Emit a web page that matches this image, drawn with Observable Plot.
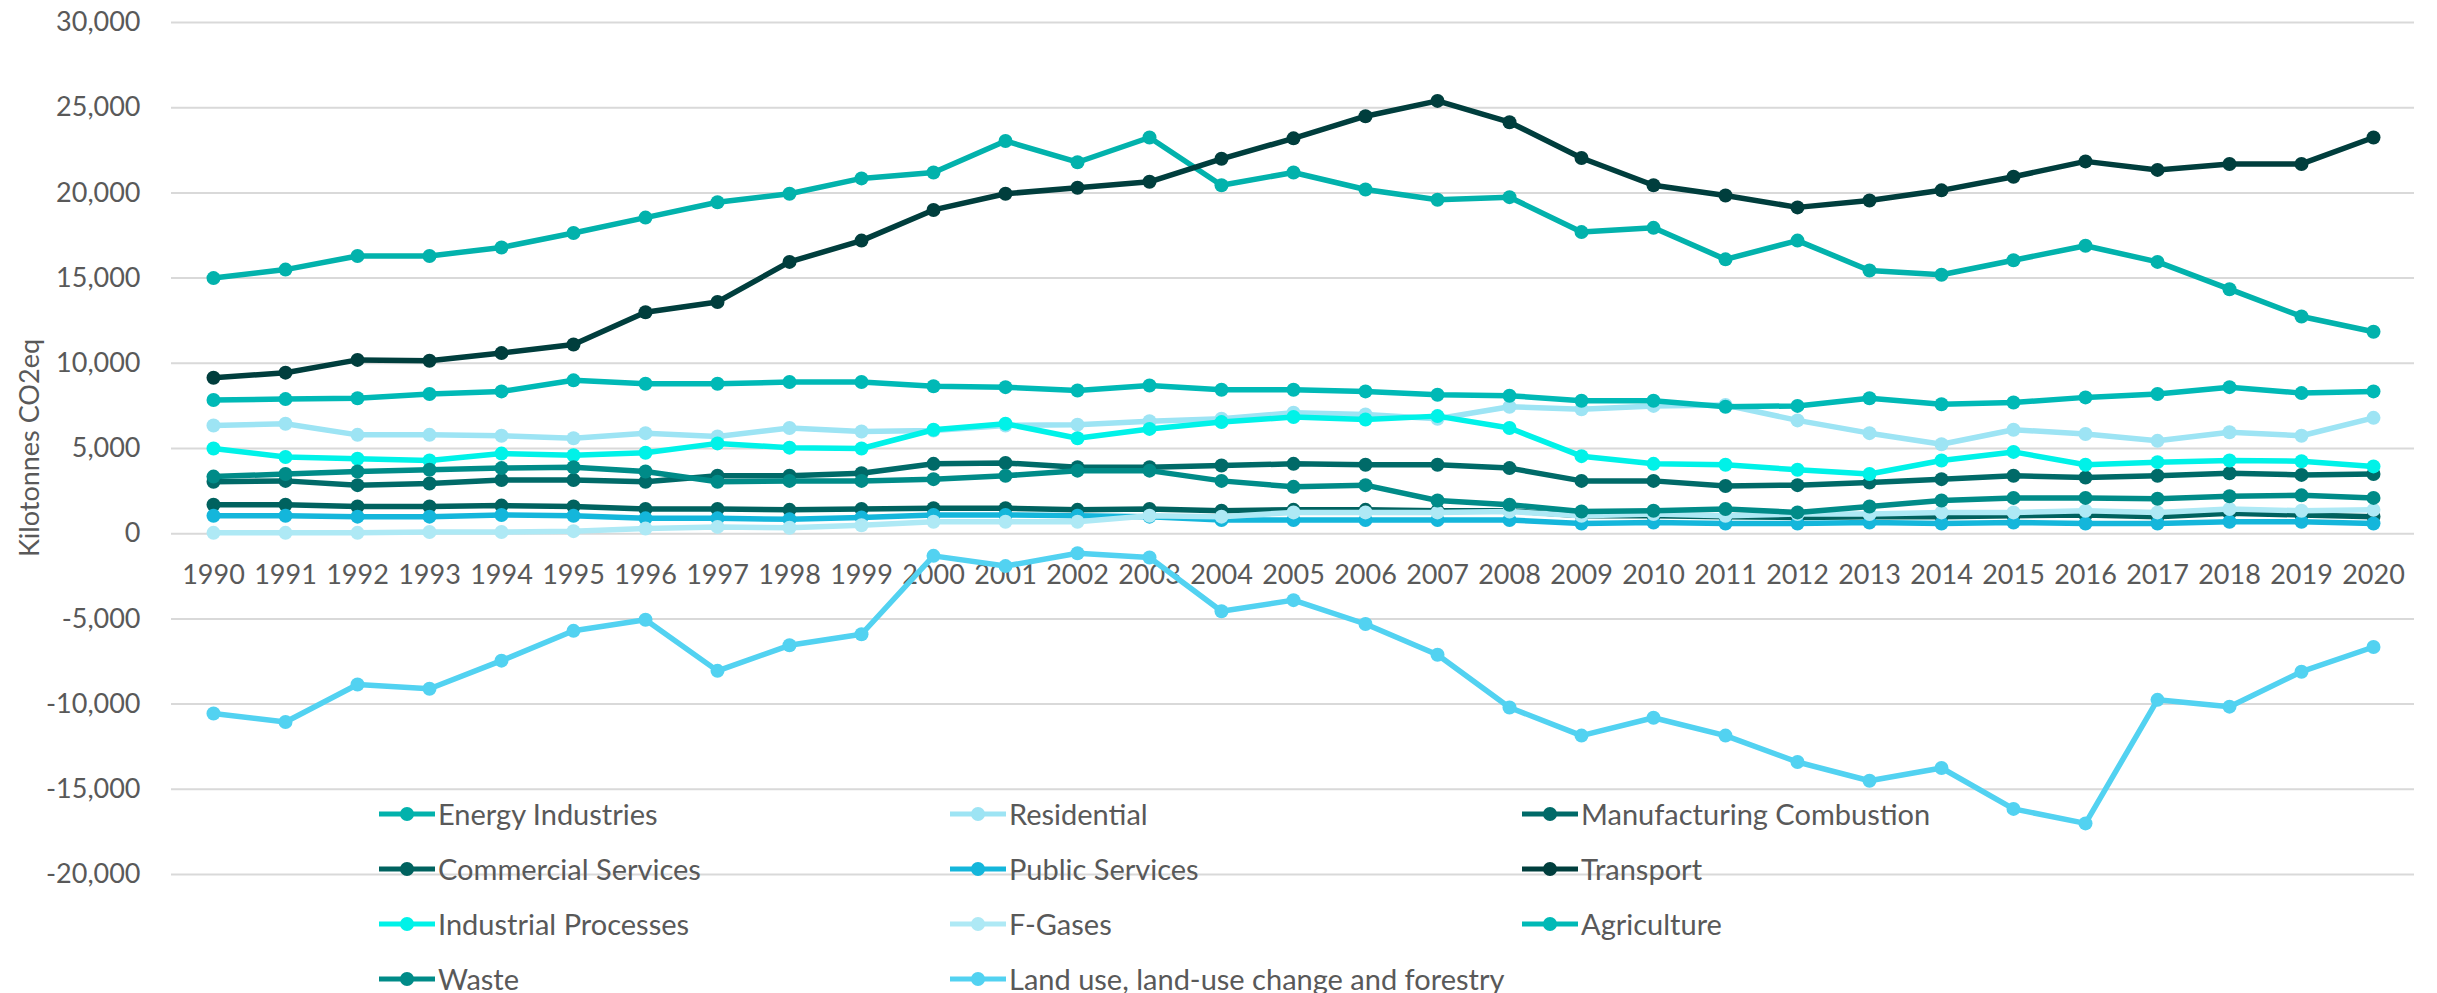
<!DOCTYPE html>
<html>
<head>
<meta charset="utf-8">
<script src="https://cdn.jsdelivr.net/npm/d3@7"></script>
<script src="https://cdn.jsdelivr.net/npm/@observablehq/plot@0.6"></script>
<style>
  html, body { margin: 0; padding: 0; background: #fff; }
  #wrap { position: relative; width: 2437px; height: 993px; font-family: Lato, "Noto Sans", sans-serif; }
  #ytitle { position: absolute; left: 28px; top: 448px; transform: translate(-50%, -50%) rotate(-90deg);
            font-size: 27px; color: #595959; white-space: nowrap; }
  #legend { position: absolute; left: 379px; top: 786px; display: grid;
            grid-template-columns: 571px 572px 500px; grid-auto-rows: 55px; align-items: center; }
  .item { display: flex; align-items: center; font-size: 29px; color: #595959; white-space: nowrap; }
  .item svg { margin-right: 3px; flex: none; }
</style>
</head>
<body>
<div id="wrap">
  <div id="chart"></div>
  <div id="ytitle">Kilotonnes CO2eq</div>
  <div id="legend"></div>
</div>
<script>
const years = [1990,1991,1992,1993,1994,1995,1996,1997,1998,1999,2000,2001,2002,2003,2004,2005,2006,2007,2008,2009,2010,2011,2012,2013,2014,2015,2016,2017,2018,2019,2020];

const seriesNames = ["Energy Industries","Residential","Manufacturing Combustion","Commercial Services","Public Services","Transport","Industrial Processes","F-Gases","Agriculture","Waste","Land use, land-use change and forestry"];
const seriesColors = ["#02B2AC","#9DE4F4","#006A68","#00625F","#14B6DB","#003E3D","#00F2E8","#AEE9F5","#00B9B6","#008B88","#52D2F1"];

const energyIndustries = [15000,15500,16300,16300,16800,17650,18550,19450,19950,20850,21200,23050,21800,23250,20450,21200,20200,19600,19750,17700,17950,16100,17200,15450,15200,16050,16900,15950,14350,12750,11850];
const residential = [6350,6450,5800,5800,5750,5600,5900,5700,6200,6000,6050,6350,6400,6600,6750,7100,7000,6750,7450,7300,7500,7550,6650,5900,5250,6100,5850,5450,5950,5750,6800];
const manufacturingCombustion = [3050,3100,2850,2950,3150,3150,3050,3400,3400,3550,4100,4150,3900,3900,4000,4100,4050,4050,3850,3100,3100,2800,2850,3000,3200,3400,3300,3400,3550,3450,3500];
const commercialServices = [1700,1700,1600,1600,1650,1600,1450,1450,1400,1450,1500,1500,1400,1450,1350,1400,1400,1350,1350,1050,1050,1000,950,1000,1000,1050,1100,1000,1200,1100,1000];
const publicServices = [1050,1050,1000,1000,1100,1050,900,900,850,950,1100,1100,1050,1000,800,800,800,800,800,600,650,600,600,650,600,650,600,600,700,700,600];
const transport = [9150,9450,10200,10150,10600,11100,13000,13600,15950,17200,19000,19950,20300,20650,22000,23200,24500,25400,24150,22050,20450,19850,19150,19550,20150,20950,21850,21350,21700,21700,23250];
const industrialProcesses = [5000,4500,4400,4300,4700,4600,4750,5300,5050,5000,6100,6450,5600,6150,6550,6850,6700,6900,6200,4550,4100,4050,3750,3500,4300,4800,4050,4200,4300,4250,3950];
const fGases = [50,50,50,100,100,150,300,400,350,500,700,700,700,1050,1000,1250,1250,1250,1300,1050,1150,1050,1150,1150,1250,1250,1350,1250,1450,1350,1400];
const agriculture = [7850,7900,7950,8200,8350,9000,8800,8800,8900,8900,8650,8600,8400,8700,8450,8450,8350,8150,8100,7800,7800,7450,7500,7950,7600,7700,8000,8200,8600,8250,8350];
const waste = [3350,3500,3650,3750,3850,3900,3650,3050,3100,3100,3200,3400,3700,3700,3100,2750,2850,1950,1700,1300,1350,1450,1250,1600,1950,2100,2100,2050,2200,2250,2100];
const lulucf = [-10550,-11050,-8850,-9100,-7450,-5700,-5050,-8050,-6550,-5900,-1300,-1900,-1150,-1400,-4550,-3900,-5300,-7100,-10200,-11850,-10800,-11850,-13400,-14500,-13750,-16150,-17000,-9750,-10150,-8100,-6650];

const yTicks = [-20000,-15000,-10000,-5000,0,5000,10000,15000,20000,25000,30000];

const seriesValues = [energyIndustries, residential, manufacturingCombustion, commercialServices, publicServices, transport, industrialProcesses, fGases, agriculture, waste, lulucf];

const data = seriesNames.flatMap((name, i) => years.map((year, j) => ({series: name, year, value: seriesValues[i][j]})));

const textColor = "#595959";

const seriesMarks = seriesNames.flatMap(name => {
  const rows = data.filter(d => d.series === name);
  return [
    Plot.line(rows, {x: "year", y: "value", stroke: "series", strokeWidth: 5.5, strokeLinejoin: "round"}),
    Plot.dot(rows, {x: "year", y: "value", fill: "series", r: 7, stroke: "none"})
  ];
});

const chart = Plot.plot({
  width: 2437,
  height: 993,
  marginLeft: 171,
  marginRight: 23,
  marginTop: 22,
  marginBottom: 119,
  style: {fontFamily: "Lato, 'Noto Sans', sans-serif", background: "#fff"},
  x: {type: "point", domain: years, padding: 0.5, axis: null},
  y: {domain: [-20000, 30000], axis: null},
  color: {domain: seriesNames, range: seriesColors},
  marks: [
    Plot.gridY(yTicks, {stroke: "#D9D9D9", strokeWidth: 2, strokeOpacity: 1}),
    Plot.axisY(yTicks, {tickSize: 0, tickPadding: 31, tickFormat: d => d.toLocaleString("en-US"), fontSize: 27, fill: textColor, label: null}),
    Plot.text(years, {x: d => d, y: () => 0, dy: 42, fontSize: 27, fill: textColor, text: d => String(d)}),
    ...seriesMarks
  ]
});
document.getElementById("chart").appendChild(chart);

const legend = document.getElementById("legend");
seriesNames.forEach((name, i) => {
  const item = document.createElement("div");
  item.className = "item";
  item.innerHTML = `<svg width="56" height="16"><line x1="0" y1="8" x2="56" y2="8" stroke="${seriesColors[i]}" stroke-width="5"/><circle cx="28" cy="8" r="7" fill="${seriesColors[i]}"/></svg><span>${name}</span>`;
  legend.appendChild(item);
});
</script>
</body>
</html>
